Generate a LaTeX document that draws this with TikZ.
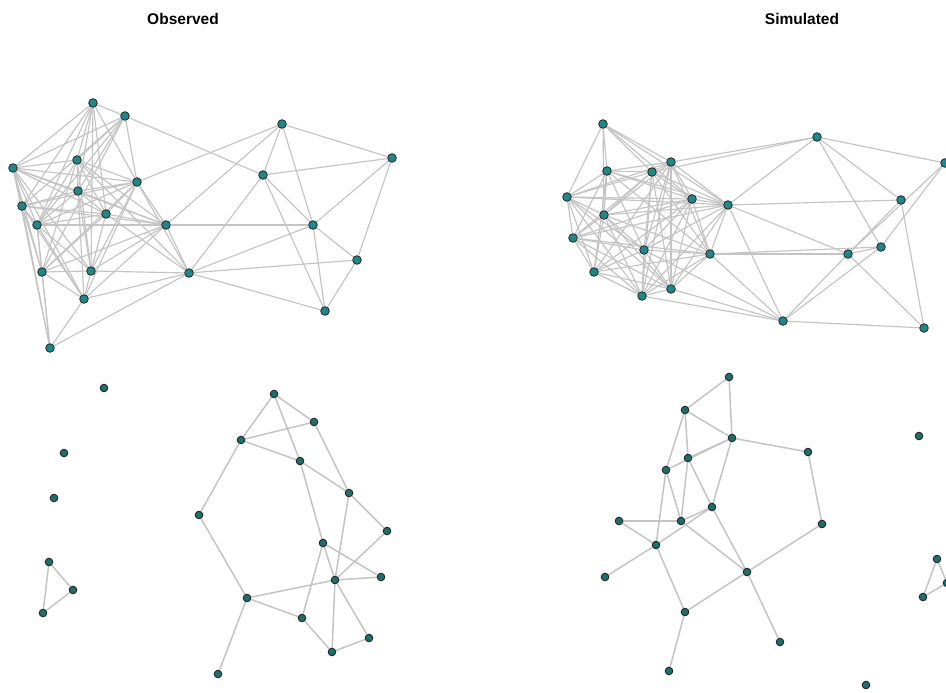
\documentclass[tikz,border=0pt]{standalone}
\usepackage{fontspec}
\setmainfont{Liberation Sans}
\usetikzlibrary{backgrounds}
\definecolor{nodefill}{RGB}{30,136,136}
\definecolor{nodefillb}{RGB}{28,112,108}
\definecolor{edgegray}{RGB}{196,196,196}
\begin{document}
\begin{tikzpicture}[x=1pt,y=-1pt,
  vtx/.style={circle,draw=black!85,fill=nodefill,line width=0.8pt,inner sep=0pt,minimum size=8.6pt},
  vtxs/.style={vtx,fill=nodefillb,minimum size=7.6pt,line width=0.9pt},
  edge/.style={draw=edgegray,line width=1.15pt},
  edgeb/.style={draw=edgegray,line width=1.5pt},
  ttl/.style={font=\fontsize{15.5}{18}\selectfont\bfseries}]
\useasboundingbox (0,0) rectangle (946,693);
\node[ttl] (t1) at (183,19) {Observed};
\node[ttl] (t2) at (802,19) {Simulated};
% Observed top
\foreach \n/\x/\y in {A/93/103,B/125/116,C/13/168,D/77/160,E/137/182,F/78/191,G/22/206,H/106/214,I/37/225,J/166/225,K/42/272,L/91/271,M/189/273,N/84/299,O/50/348,P/282/124,Q/392/158,R/263/175,S/313/225,T/357/260,U/325/311}
  \node[vtx] (O\n) at (\x,\y) {};
% Simulated top
\foreach \n/\x/\y in {a/603/124,b/607/171,c/652/172,d/671/162,e/567/197,f/692/199,g/728/205,h/604/215,i/573/238,j/644/250,k/710/254,l/594/272,m/671/289,n/642/296,o/817/137,p/945/163,q/901/200,r/848/254,s/881/247,t/783/321,u/924/328}
  \node[vtx] (S\n) at (\x,\y) {};
% Observed bottom
\foreach \n/\x/\y in {1/104/388,2/64/453,3/54/498,4/49/562,5/73/590,6/43/613}
  \node[vtxs] (P\n) at (\x,\y) {};
\foreach \n/\x/\y in {1/274/394,2/314/422,3/241/440,4/300/461,5/349/493,6/199/515,7/387/531,8/323/543,9/381/577,10/335/580,11/247/598,12/302/618,13/369/638,14/332/652,15/218/674}
  \node[vtxs] (V\n) at (\x,\y) {};
% Simulated bottom
\foreach \n/\x/\y in {1/729/377,2/685/410,3/732/438,4/808/452,5/688/458,6/666/470,7/712/507,8/619/521,9/681/521,10/656/545,11/747/572,12/605/577,13/685/612,14/780/642,15/669/671,16/822/524,17/919/436,18/937/559,19/923/597,20/947/583,21/866/685}
  \node[vtxs] (W\n) at (\x,\y) {};
\begin{pgfonlayer}{background}
\fill[white] (0,0) rectangle (946,693);
\foreach \x/\y in {A/B,A/C,A/D,A/E,A/F,A/G,A/H,A/I,A/L,
B/C,B/D,B/E,B/F,B/G,B/I,B/K,B/R,
C/D,C/E,C/F,C/G,C/H,C/I,C/J,C/K,C/L,C/N,C/O,
D/E,D/F,D/H,D/I,D/J,D/K,D/L,D/M,
E/F,E/G,E/H,E/I,E/J,E/K,E/L,E/M,E/N,E/P,
F/G,F/H,F/I,F/J,F/L,F/N,
G/H,G/I,G/J,G/K,G/N,G/O,
H/I,H/J,H/K,H/L,H/M,
I/J,I/K,I/L,I/N,I/O,
J/K,J/L,J/M,J/N,J/P,J/S,
K/L,K/N,K/O,
L/M,L/N,
M/N,M/O,M/R,M/S,M/T,M/U,
N/O,
P/Q,P/R,P/S,
Q/R,Q/S,Q/T,
R/S,R/U,
S/T,S/U,
T/U}
  \draw[edge] (O\x) -- (O\y);
\foreach \x/\y in {a/b,a/c,a/d,a/e,a/f,a/g,a/h,
b/c,b/d,b/e,b/f,b/g,b/h,b/i,b/j,b/k,b/l,
c/d,c/e,c/f,c/g,c/h,c/i,c/j,c/k,c/m,c/n,c/o,
d/e,d/f,d/g,d/h,d/j,d/k,d/l,d/m,d/n,d/o,
e/f,e/g,e/h,e/i,e/j,e/l,e/m,e/n,
f/g,f/h,f/i,f/j,f/k,f/l,f/m,f/n,
g/h,g/i,g/j,g/k,g/m,g/n,g/o,g/q,g/r,g/t,
h/i,h/j,h/k,h/l,h/m,h/n,
i/j,i/k,i/l,i/m,i/n,
j/k,j/l,j/m,j/n,j/t,
k/l,k/m,k/n,k/r,k/s,k/t,
l/m,l/n,
m/n,m/t,
n/t,
o/p,o/q,o/s,
p/r,p/s,
q/r,q/u,
r/s,r/t,r/u,
s/t,
t/u}
  \draw[edge] (S\x) -- (S\y);
\foreach \x/\y in {4/5,5/6,4/6}
  \draw[edgeb] (P\x) -- (P\y);
\foreach \x/\y in {1/2,1/3,1/4,2/3,3/4,4/5,2/5,3/6,4/8,5/10,5/7,7/10,8/9,8/10,8/12,10/9,10/11,10/13,10/14,6/11,11/12,11/15,12/14,14/13}
  \draw[edgeb] (V\x) -- (V\y);
\foreach \x/\y in {1/2,1/3,2/3,2/6,2/5,3/4,3/5,6/3,3/7,5/7,5/9,6/9,6/10,8/9,8/10,9/7,10/7,9/11,7/11,10/12,10/13,13/11,13/15,11/14,11/16,4/16,18/19,19/20,18/20}
  \draw[edgeb] (W\x) -- (W\y);
\end{pgfonlayer}
\end{tikzpicture}
\end{document}
